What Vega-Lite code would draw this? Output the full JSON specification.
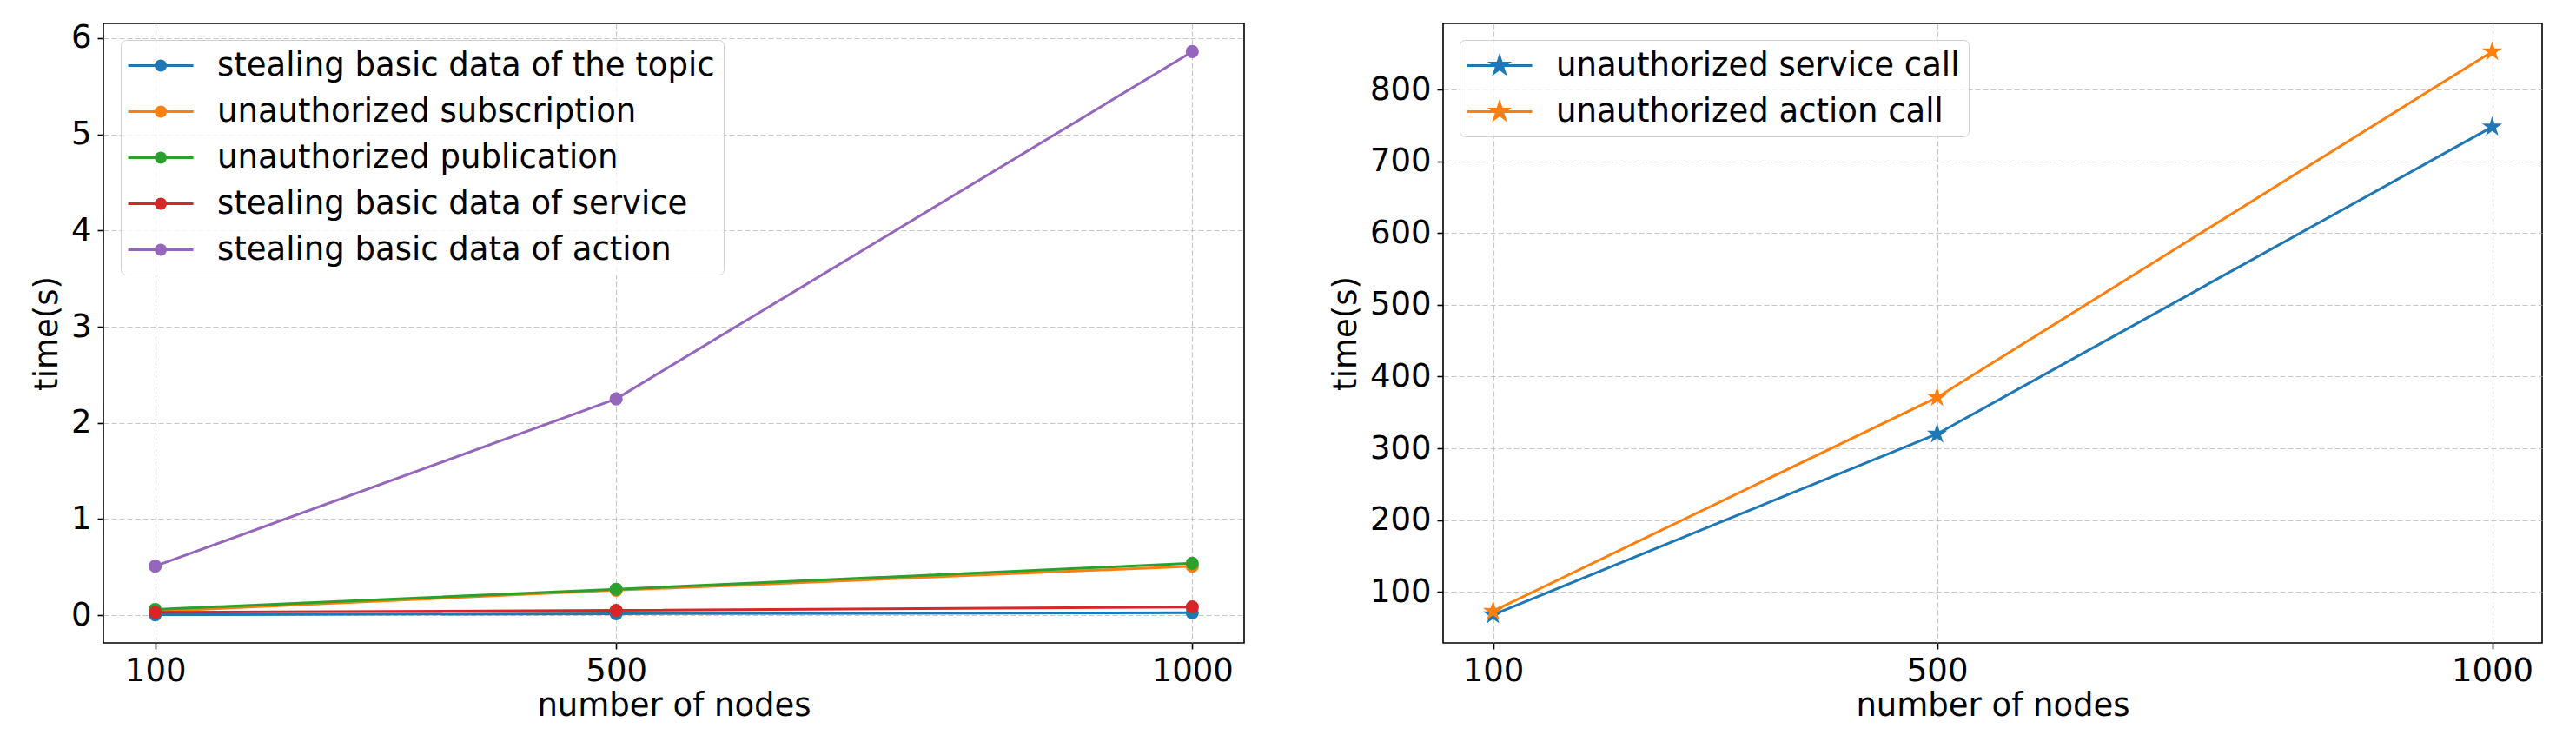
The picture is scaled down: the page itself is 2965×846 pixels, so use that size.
{
  "$schema": "https://vega.github.io/schema/vega-lite/v6.json",
  "padding": {"left": 34, "top": 24, "right": 40, "bottom": 5},
  "background": "white",
  "bounds": "flush",
  "spacing": 229,
  "config": {
    "font": "DejaVu Sans",
    "view": {"stroke": "black", "strokeWidth": 1.6},
    "axis": {
      "labelFont": "DejaVu Sans", "titleFont": "DejaVu Sans",
      "labelFontSize": 37, "titleFontSize": 37,
      "labelColor": "black", "titleColor": "black", "titleFontWeight": "normal",
      "domain": false, "tickColor": "black", "tickSize": 7, "tickWidth": 1.6,
      "labelPadding": 7,
      "gridColor": "#b0b0b0", "gridDash": [6, 3], "gridWidth": 1.2, "gridOpacity": 0.7
    }
  },
  "resolve": {"scale": {"color": "independent"}, "legend": {"color": "independent"}},
  "datasets": {
    "left": [
      {"nodes": 100, "attack": "stealing basic data of the topic", "time": 0.005},
      {"nodes": 500, "attack": "stealing basic data of the topic", "time": 0.015},
      {"nodes": 1000, "attack": "stealing basic data of the topic", "time": 0.025},
      {"nodes": 100, "attack": "unauthorized subscription", "time": 0.04},
      {"nodes": 500, "attack": "unauthorized subscription", "time": 0.26},
      {"nodes": 1000, "attack": "unauthorized subscription", "time": 0.51},
      {"nodes": 100, "attack": "unauthorized publication", "time": 0.06},
      {"nodes": 500, "attack": "unauthorized publication", "time": 0.27},
      {"nodes": 1000, "attack": "unauthorized publication", "time": 0.54},
      {"nodes": 100, "attack": "stealing basic data of service", "time": 0.03},
      {"nodes": 500, "attack": "stealing basic data of service", "time": 0.05},
      {"nodes": 1000, "attack": "stealing basic data of service", "time": 0.085},
      {"nodes": 100, "attack": "stealing basic data of action", "time": 0.51},
      {"nodes": 500, "attack": "stealing basic data of action", "time": 2.25},
      {"nodes": 1000, "attack": "stealing basic data of action", "time": 5.86}
    ],
    "right": [
      {"nodes": 100, "attack": "unauthorized service call", "time": 68},
      {"nodes": 500, "attack": "unauthorized service call", "time": 320},
      {"nodes": 1000, "attack": "unauthorized service call", "time": 748},
      {"nodes": 100, "attack": "unauthorized action call", "time": 73},
      {"nodes": 500, "attack": "unauthorized action call", "time": 371},
      {"nodes": 1000, "attack": "unauthorized action call", "time": 853}
    ]
  },
  "hconcat": [
    {
      "width": 1313, "height": 713,
      "data": {"name": "left"},
      "encoding": {
        "x": {"field": "nodes", "type": "quantitative",
          "scale": {"domain": [55, 1045], "nice": false, "zero": false},
          "axis": {"values": [100, 500, 1000], "format": "d", "title": "number of nodes", "titlePadding": 4}},
        "y": {"field": "time", "type": "quantitative",
          "scale": {"domain": [-0.288, 6.153], "nice": false, "zero": false},
          "axis": {"values": [0, 1, 2, 3, 4, 5, 6], "format": "d", "title": "time(s)", "titlePadding": 8}},
        "color": {"field": "attack", "type": "nominal",
          "scale": {"domain": ["stealing basic data of the topic", "unauthorized subscription", "unauthorized publication", "stealing basic data of service", "stealing basic data of action"],
                    "range": ["#1f77b4", "#ff7f0e", "#2ca02c", "#d62728", "#9467bd"]},
          "legend": {
            "title": null, "orient": "none", "legendX": 20, "legendY": 19,
            "symbolType": "M-1.163,0H3.003M1.226,0A0.306,0.306,0,1,1,0.614,0A0.306,0.306,0,1,1,1.226,0Z",
            "symbolSize": 1296, "symbolStrokeWidth": 3,
            "labelFont": "DejaVu Sans", "labelFontSize": 37, "labelColor": "black", "labelLimit": 2000,
            "labelOffset": 62, "padding": 10, "rowPadding": 15,
            "strokeColor": "#d0d0d0", "fillColor": "rgba(255,255,255,0.8)", "cornerRadius": 6,
            "encode": {"symbols": {"update": {
              "fill": {"signal": "datum.value == 'stealing basic data of the topic' ? '#1f77b4' : datum.value == 'unauthorized subscription' ? '#ff7f0e' : datum.value == 'unauthorized publication' ? '#2ca02c' : datum.value == 'stealing basic data of service' ? '#d62728' : '#9467bd'"},
              "stroke": {"signal": "datum.value == 'stealing basic data of the topic' ? '#1f77b4' : datum.value == 'unauthorized subscription' ? '#ff7f0e' : datum.value == 'unauthorized publication' ? '#2ca02c' : datum.value == 'stealing basic data of service' ? '#d62728' : '#9467bd'"},
              "opacity": {"value": 1}}}}
          }}
      },
      "layer": [
        {"mark": {"type": "line", "strokeWidth": 3}},
        {"mark": {"type": "point", "filled": true, "shape": "circle", "size": 230, "opacity": 1}}
      ]
    },
    {
      "width": 1265, "height": 713,
      "data": {"name": "right"},
      "encoding": {
        "x": {"field": "nodes", "type": "quantitative",
          "scale": {"domain": [55, 1045], "nice": false, "zero": false},
          "axis": {"values": [100, 500, 1000], "format": "d", "title": "number of nodes", "titlePadding": 4}},
        "y": {"field": "time", "type": "quantitative",
          "scale": {"domain": [28.75, 892.25], "nice": false, "zero": false},
          "axis": {"values": [100, 200, 300, 400, 500, 600, 700, 800], "format": "d", "title": "time(s)", "titlePadding": 8}},
        "color": {"field": "attack", "type": "nominal",
          "scale": {"domain": ["unauthorized service call", "unauthorized action call"], "range": ["#1f77b4", "#ff7f0e"]},
          "legend": {
            "title": null, "orient": "none", "legendX": 19, "legendY": 19,
            "symbolType": "M-1.163,0H3.003M0.92,-0.556L1.045,-0.172L1.449,-0.172L1.122,0.066L1.247,0.45L0.92,0.212L0.593,0.45L0.718,0.066L0.391,-0.172L0.795,-0.172Z",
            "symbolSize": 1296, "symbolStrokeWidth": 3,
            "labelFont": "DejaVu Sans", "labelFontSize": 37, "labelColor": "black", "labelLimit": 2000,
            "labelOffset": 62, "padding": 10, "rowPadding": 15,
            "strokeColor": "#d0d0d0", "fillColor": "rgba(255,255,255,0.8)", "cornerRadius": 6,
            "encode": {"symbols": {"update": {
              "fill": {"signal": "datum.value == 'unauthorized service call' ? '#1f77b4' : '#ff7f0e'"},
              "stroke": {"signal": "datum.value == 'unauthorized service call' ? '#1f77b4' : '#ff7f0e'"},
              "opacity": {"value": 1}}}}
          }}
      },
      "layer": [
        {"mark": {"type": "line", "strokeWidth": 3}},
        {"mark": {"type": "point", "filled": true, "shape": "M0,-1L0.225,-0.309L0.951,-0.309L0.363,0.118L0.588,0.809L0,0.382L-0.588,0.809L-0.363,0.118L-0.951,-0.309L-0.225,-0.309Z", "size": 600, "opacity": 1}}
      ]
    }
  ]
}
